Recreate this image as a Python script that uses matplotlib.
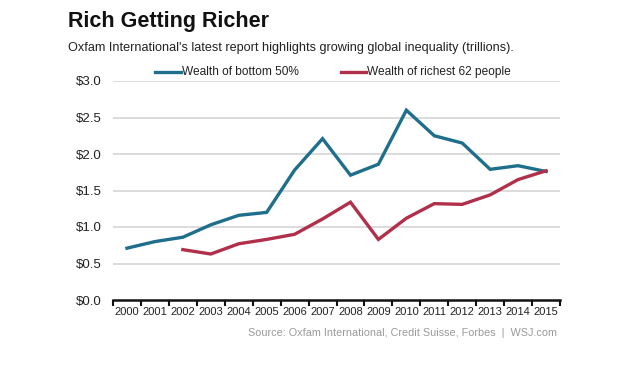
import numpy as np
import matplotlib
matplotlib.use("Agg")
import matplotlib.pyplot as plt

years = list(range(2000, 2016))
bottom_50 = [0.71, 0.80, 0.86, 1.03, 1.16, 1.20, 1.78, 2.21, 1.71, 1.86, 2.60, 2.25, 2.15, 1.79, 1.84, 1.76]
richest_years = list(range(2002, 2016))
richest_62 = [0.69, 0.63, 0.77, 0.83, 0.90, 1.11, 1.34, 0.83, 1.12, 1.32, 1.31, 1.44, 1.65, 1.77]
y_ticks = [0.0, 0.5, 1.0, 1.5, 2.0, 2.5, 3.0]

blue = "#1e6e8c"
red = "#b0304a"

plt.rcParams['font.family'] = ['Liberation Sans', 'DejaVu Sans']

fig = plt.figure(figsize=(6.4, 3.65), dpi=100)
ax = fig.add_axes([113 / 640, 1 - 300 / 365, 447 / 640, 219 / 365])

for v in y_ticks[1:]:
    ax.axhline(v, color="#d6d6d6", lw=1.2, zorder=0)

ax.plot(years, bottom_50, color=blue, lw=2.4, solid_joinstyle="miter")
ax.plot(richest_years, richest_62, color=red, lw=2.4, solid_joinstyle="miter")

ax.set_xlim(years[0] - 0.5, years[-1] + 0.5)
ax.set_ylim(0, 3.0)
ax.set_yticks(y_ticks)
ax.set_yticklabels(["$%.1f" % v for v in y_ticks], fontsize=9.5, color="#222222")
ax.tick_params(axis="y", length=0, pad=8)

ax.set_xticks(years)
ax.set_xticklabels([str(y) for y in years], fontsize=8, color="#222222")
ax.tick_params(axis="x", which="major", length=0, pad=5)
ax.set_xticks(np.arange(years[0] - 0.5, years[-1] + 1), minor=True)
ax.tick_params(axis="x", which="minor", length=4, width=1.5, color="#111111", direction="out")

for s in ["top", "right", "left"]:
    ax.spines[s].set_visible(False)
ax.spines["bottom"].set_linewidth(1.8)
ax.spines["bottom"].set_color("#111111")

fig.text(68 / 640, 1 - 21 / 365, "Rich Getting Richer", fontsize=15.5, fontweight="bold",
         color="#111111", va="center")
fig.text(68 / 640, 1 - 48 / 365,
         "Oxfam International's latest report highlights growing global inequality (trillions).",
         fontsize=9.1, color="#222222", va="center")

# legend drawn by hand in figure coordinates
fig.lines.append(plt.Line2D([155 / 640, 181 / 640], [1 - 72 / 365] * 2, color=blue, lw=2.4,
                            transform=fig.transFigure))
fig.text(182 / 640, 1 - 72 / 365, "Wealth of bottom 50%", fontsize=8.6, color="#222222", va="center")
fig.lines.append(plt.Line2D([341 / 640, 366 / 640], [1 - 72 / 365] * 2, color=red, lw=2.4,
                            transform=fig.transFigure))
fig.text(367 / 640, 1 - 72 / 365, "Wealth of richest 62 people", fontsize=8.6, color="#222222", va="center")

fig.text(557 / 640, 1 - 333 / 365, "Source: Oxfam International, Credit Suisse, Forbes  |  WSJ.com",
         fontsize=7.8, color="#9a9a9a", ha="right", va="center")

fig.savefig("out.png", dpi=100)
